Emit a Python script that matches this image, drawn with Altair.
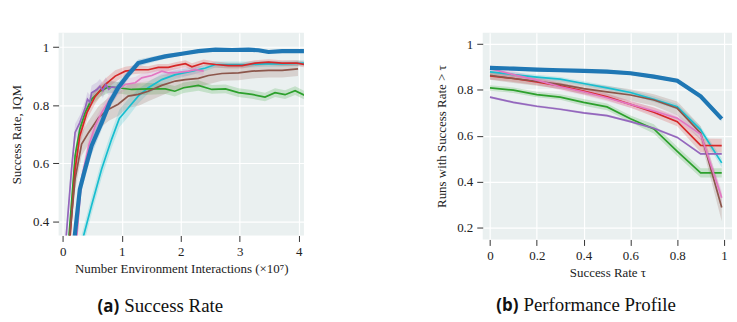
import altair as alt
import pandas as pd

SERIES = ["TCE (ours)", "BBRL", "PPO", "TRPL", "SAC", "gSDE", "PINK"]
COLORS = ["#1f77b4", "#17becf", "#2ca02c", "#d62728", "#9467bd", "#8c564b", "#e377c2"]

# ---- (a) success rate vs. interactions (x in units of 1e7) ----
TCE_X = [0.15, 0.29, 0.38, 0.49, 0.66, 0.80, 0.94, 1.09, 1.28, 1.51, 1.74, 2.02, 2.30, 2.59, 2.87, 3.15, 3.32, 3.49, 3.72, 4.10]
TCE_Y = [0.25, 0.51, 0.58, 0.66, 0.74, 0.81, 0.86, 0.90, 0.945, 0.957, 0.968, 0.977, 0.986, 0.991, 0.990, 0.991, 0.989, 0.983, 0.986, 0.986]
TCE_E = [0.03, 0.03, 0.03, 0.03, 0.025, 0.02, 0.02, 0.015, 0.012, 0.01, 0.008, 0.006, 0.005, 0.004, 0.004, 0.004, 0.004, 0.004, 0.004, 0.004]

BBRL_X = [0.25, 0.49, 0.66, 0.83, 0.96, 1.11, 1.28, 1.45, 1.68, 1.91, 2.19, 2.42, 2.59, 2.87, 3.15, 3.43, 3.72, 4.10]
BBRL_Y = [0.27, 0.455, 0.58, 0.683, 0.754, 0.79, 0.831, 0.86, 0.888, 0.905, 0.917, 0.928, 0.94, 0.94, 0.94, 0.942, 0.942, 0.945]
BBRL_E = [0.03, 0.03, 0.03, 0.03, 0.03, 0.03, 0.025, 0.02, 0.02, 0.015, 0.012, 0.01, 0.01, 0.01, 0.01, 0.01, 0.01, 0.01]

PPO_X = [0.08, 0.21, 0.29, 0.38, 0.49, 0.63, 0.78, 0.94, 1.17, 1.45, 1.74, 1.90, 2.05, 2.30, 2.53, 2.76, 2.98, 3.21, 3.43, 3.60, 3.77, 3.94, 4.10]
PPO_Y = [0.28, 0.626, 0.717, 0.774, 0.82, 0.848, 0.863, 0.86, 0.854, 0.856, 0.856, 0.848, 0.86, 0.868, 0.854, 0.856, 0.843, 0.837, 0.828, 0.843, 0.836, 0.85, 0.834]
PPO_E = [0.02, 0.02, 0.02, 0.02, 0.02, 0.02, 0.02, 0.02, 0.02, 0.02, 0.018, 0.018, 0.018, 0.018, 0.015, 0.015, 0.015, 0.015, 0.015, 0.015, 0.015, 0.015, 0.015]

TRPL_X = [0.09, 0.21, 0.29, 0.41, 0.55, 0.72, 0.89, 1.06, 1.23, 1.45, 1.62, 1.79, 1.91, 2.08, 2.19, 2.39, 2.59, 2.81, 3.04, 3.26, 3.49, 3.72, 3.97, 4.10]
TRPL_Y = [0.25, 0.58, 0.694, 0.774, 0.83, 0.871, 0.90, 0.917, 0.922, 0.922, 0.93, 0.93, 0.936, 0.943, 0.932, 0.945, 0.94, 0.936, 0.936, 0.945, 0.948, 0.945, 0.945, 0.94]
TRPL_E = [0.03, 0.03, 0.03, 0.025, 0.025, 0.02, 0.02, 0.015, 0.015, 0.012, 0.012, 0.012, 0.012, 0.012, 0.012, 0.012, 0.01, 0.01, 0.01, 0.01, 0.01, 0.01, 0.01, 0.01]

SAC_X = [0.02, 0.15, 0.21, 0.29, 0.38, 0.42, 0.46, 0.49, 0.58, 0.63, 0.68, 0.73, 0.78, 0.83, 0.94]
SAC_Y = [0.25, 0.58, 0.706, 0.74, 0.79, 0.82, 0.81, 0.843, 0.854, 0.865, 0.85, 0.871, 0.855, 0.863, 0.86]
SAC_E = [0.03, 0.03, 0.03, 0.025, 0.025, 0.025, 0.025, 0.025, 0.025, 0.025, 0.025, 0.025, 0.02, 0.02, 0.02]

GSDE_X = [0.08, 0.21, 0.32, 0.44, 0.61, 0.78, 0.94, 1.11, 1.28, 1.45, 1.68, 1.91, 2.08, 2.30, 2.47, 2.70, 2.98, 3.21, 3.49, 3.72, 3.99]
GSDE_Y = [0.27, 0.546, 0.666, 0.706, 0.757, 0.786, 0.803, 0.831, 0.837, 0.848, 0.868, 0.883, 0.888, 0.892, 0.902, 0.909, 0.911, 0.917, 0.92, 0.92, 0.925]
GSDE_E = [0.04, 0.04, 0.04, 0.04, 0.04, 0.04, 0.04, 0.04, 0.04, 0.035, 0.035, 0.03, 0.03, 0.03, 0.03, 0.025, 0.025, 0.025, 0.025, 0.025, 0.025]

PINK_X = [0.20, 0.32, 0.44, 0.55, 0.66, 0.80, 0.94, 1.06, 1.23, 1.34, 1.51, 1.68, 1.79, 1.96, 2.13, 2.25, 2.39]
PINK_Y = [0.25, 0.546, 0.66, 0.728, 0.774, 0.82, 0.854, 0.871, 0.877, 0.894, 0.902, 0.917, 0.911, 0.913, 0.917, 0.922, 0.917]
PINK_E = [0.025, 0.025, 0.025, 0.025, 0.02, 0.02, 0.02, 0.02, 0.02, 0.015, 0.015, 0.015, 0.015, 0.015, 0.015, 0.015, 0.015]

# ---- (b) performance profile ----
TAU = [0.0, 0.1, 0.2, 0.3, 0.4, 0.5, 0.6, 0.7, 0.8, 0.9, 0.99]
TCE_P = [0.896, 0.893, 0.889, 0.886, 0.883, 0.880, 0.873, 0.858, 0.840, 0.772, 0.674]
BBRL_P = [0.879, 0.867, 0.856, 0.847, 0.828, 0.809, 0.789, 0.759, 0.727, 0.626, 0.482]
PPO_P = [0.809, 0.799, 0.780, 0.769, 0.746, 0.726, 0.674, 0.630, 0.532, 0.438, 0.438]
TRPL_P = [0.861, 0.850, 0.835, 0.818, 0.795, 0.770, 0.737, 0.703, 0.662, 0.558, 0.557]
SAC_P = [0.769, 0.746, 0.729, 0.716, 0.700, 0.688, 0.662, 0.633, 0.593, 0.521, 0.521]
GSDE_P = [0.864, 0.850, 0.838, 0.824, 0.806, 0.792, 0.778, 0.756, 0.720, 0.612, 0.287]
PINK_P = [0.893, 0.867, 0.843, 0.814, 0.792, 0.766, 0.737, 0.708, 0.677, 0.607, 0.330]
TCE_PE = [0.008, 0.008, 0.008, 0.008, 0.008, 0.008, 0.008, 0.008, 0.008, 0.01, 0.012]
BBRL_PE = [0.01, 0.01, 0.01, 0.01, 0.01, 0.01, 0.01, 0.012, 0.012, 0.015, 0.02]
PPO_PE = [0.012, 0.012, 0.012, 0.012, 0.015, 0.015, 0.015, 0.02, 0.02, 0.02, 0.02]
TRPL_PE = [0.015, 0.015, 0.015, 0.015, 0.015, 0.015, 0.015, 0.02, 0.02, 0.03, 0.03]
SAC_PE = [0.005, 0.005, 0.005, 0.005, 0.005, 0.005, 0.005, 0.005, 0.005, 0.005, 0.005]
GSDE_PE = [0.02, 0.02, 0.02, 0.02, 0.025, 0.025, 0.025, 0.025, 0.03, 0.03, 0.06]
PINK_PE = [0.015, 0.015, 0.015, 0.015, 0.015, 0.015, 0.015, 0.015, 0.015, 0.02, 0.03]

LEFT = {"TCE (ours)": (TCE_X, TCE_Y, TCE_E), "BBRL": (BBRL_X, BBRL_Y, BBRL_E),
        "PPO": (PPO_X, PPO_Y, PPO_E), "TRPL": (TRPL_X, TRPL_Y, TRPL_E),
        "SAC": (SAC_X, SAC_Y, SAC_E), "gSDE": (GSDE_X, GSDE_Y, GSDE_E),
        "PINK": (PINK_X, PINK_Y, PINK_E)}
RIGHT = {"TCE (ours)": (TCE_P, TCE_PE), "BBRL": (BBRL_P, BBRL_PE), "PPO": (PPO_P, PPO_PE),
         "TRPL": (TRPL_P, TRPL_PE), "SAC": (SAC_P, SAC_PE), "gSDE": (GSDE_P, GSDE_PE),
         "PINK": (PINK_P, PINK_PE)}

DRAW_ORDER = ["BBRL", "PPO", "TRPL", "SAC", "gSDE", "PINK", "TCE (ours)"]

rows = []
for s in DRAW_ORDER:
    xs, ys, es = LEFT[s]
    for x, y, e in zip(xs, ys, es):
        rows.append({"series": s, "x": x, "y": y, "lo": y - e, "hi": y + e})
left_df = pd.DataFrame(rows)

rows = []
for s in DRAW_ORDER:
    ys, es = RIGHT[s]
    for x, y, e in zip(TAU, ys, es):
        rows.append({"series": s, "x": x, "y": y, "lo": y - e, "hi": y + e})
right_df = pd.DataFrame(rows)

SERIF = "Liberation Serif"
THICK = 4.2
THIN = 1.7

color_scale = alt.Scale(domain=SERIES, range=COLORS)
legend = alt.Legend(
    title=None, orient="none", legendX=-5, legendY=-27, direction="horizontal",
    symbolType="stroke", symbolSize=1225, labelFont=SERIF, labelFontSize=17,
    labelColor="#111", labelOffset=14, columnPadding=14, padding=0,
    symbolStrokeWidth=alt.ExprRef("datum.value === 'TCE (ours)' ? %s : %s" % (THICK + 0.8, THIN + 1.0)))


def panel(df, xdom, xvals, ydom, yvals, xtitle, ytitle, w, h, tag, caption, cap_dx, cap_y, ytp):
    base = alt.Chart(df)
    x = alt.X("x:Q", scale=alt.Scale(domain=xdom, nice=False, zero=False),
              axis=alt.Axis(values=xvals, title=xtitle, format="~g"))
    y = alt.Y("y:Q", scale=alt.Scale(domain=ydom, nice=False, zero=False),
              axis=alt.Axis(values=yvals, title=ytitle, format=".1~f", titlePadding=ytp))
    band = base.mark_area(opacity=0.2, clip=True).encode(
        x=x, y="lo:Q", y2="hi:Q",
        fill=alt.Fill("series:N", scale=color_scale, legend=None),
        detail="series:N")
    line = base.mark_line(clip=True).encode(
        x=x, y=y,
        color=alt.Color("series:N", scale=color_scale, legend=legend),
        strokeWidth=alt.condition("datum.series === 'TCE (ours)'", alt.value(THICK), alt.value(THIN)))
    capdf = pd.DataFrame({"t": [caption]})
    tagtext = alt.Chart(capdf).mark_text(
        align="right", baseline="alphabetic", font="Open Sans", fontWeight="bold",
        fontSize=17, color="#111").encode(
        x=alt.value(cap_dx - 3), y=alt.value(cap_y), text=alt.value(tag))
    captext = alt.Chart(capdf).mark_text(
        align="left", baseline="alphabetic", font=SERIF, fontSize=19, color="#111").encode(
        x=alt.value(cap_dx + 2), y=alt.value(cap_y), text="t:N")
    return alt.layer(band, line, tagtext, captext).properties(width=w, height=h)


left = panel(left_df, [-0.07, 4.09], [0, 1, 2, 3, 4], [0.351, 1.049], [0.4, 0.6, 0.8, 1.0],
             "Number Environment Interactions (×10⁷)", "Success Rate, IQM",
             247, 204, "(a)", "Success Rate", 64, 281, 9)
right = panel(right_df, [-0.031, 1.034], [0, 0.2, 0.4, 0.6, 0.8, 1.0], [0.148, 1.049],
              [0.2, 0.4, 0.6, 0.8, 1.0],
              "Success Rate τ", "Runs with Success Rate > τ",
              251, 208, "(b)", "Performance Profile", 39, 280, 8)

chart = alt.hconcat(left, right, spacing=132).properties(
    padding={"left": 10, "top": 32, "right": 5, "bottom": 2}
).configure_view(fill="#eaf0f0", stroke=None).configure_axis(
    labelFont=SERIF, labelFontSize=13, labelColor="#222",
    titleFont=SERIF, titleFontSize=13, titleFontWeight="normal", titleColor="#222",
    tickColor="#333", tickSize=6, domain=False, grid=True, gridColor="#ffffff", gridWidth=1.2,
    labelPadding=4
)

chart.save("out.html", embed_options={"renderer": "svg", "actions": False})
